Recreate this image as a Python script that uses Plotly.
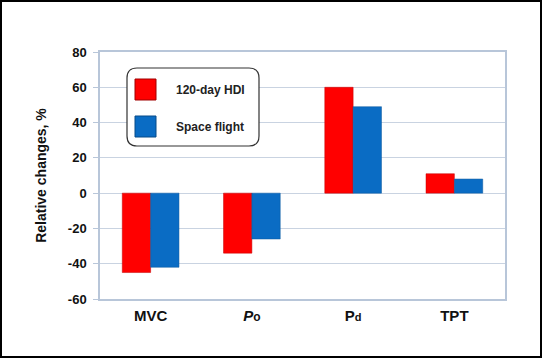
import plotly.graph_objects as go

categories = ["MVC", "<i>P</i><span style='font-size:12px'>o</span>", "P<span style='font-size:11px'>d</span>", "TPT"]
series_names = ["120-day HDI", "Space flight"]
hdi_values = [-45, -34, 60, 11]
flight_values = [-42, -26, 49, 8]
y_ticks = [-60, -40, -20, 0, 20, 40, 60, 80]

W, H = 542, 358
L, R, T, B = 100, 37, 52, 59
PW, PH = W - L - R, H - T - B

def px(x):
    return (x - L) / PW

def py(y):
    return (H - B - y) / PH

RED = "#ff0000"
BLUE = "#0a6cc4"

fig = go.Figure()
fig.add_bar(x=categories, y=hdi_values, name=series_names[0], marker=dict(color=RED, line=dict(color="#c00000", width=0.5)))
fig.add_bar(x=categories, y=flight_values, name=series_names[1], marker=dict(color=BLUE, line=dict(color="#08569c", width=0.5)))

shapes = []
# outer frame
shapes.append(dict(type="rect", xref="paper", yref="paper", x0=px(1), x1=px(541), y0=py(357), y1=py(1),
                   line=dict(color="black", width=2), fillcolor="rgba(0,0,0,0)", layer="above"))
# rounded legend box
x0, x1, y0, y1, r = 127, 259, 68, 146, 10
path = (f"M {px(x0+r)},{py(y0)} L {px(x1-r)},{py(y0)} Q {px(x1)},{py(y0)} {px(x1)},{py(y0+r)} "
        f"L {px(x1)},{py(y1-r)} Q {px(x1)},{py(y1)} {px(x1-r)},{py(y1)} "
        f"L {px(x0+r)},{py(y1)} Q {px(x0)},{py(y1)} {px(x0)},{py(y1-r)} "
        f"L {px(x0)},{py(y0+r)} Q {px(x0)},{py(y0)} {px(x0+r)},{py(y0)} Z")
shapes.append(dict(type="path", xref="paper", yref="paper", path=path, fillcolor="white",
                   line=dict(color="#333333", width=1.2), layer="above"))
annotations = []
for i, (name, col, edge) in enumerate([(series_names[0], RED, "#a00000"), (series_names[1], BLUE, "#064a88")]):
    top = 79 + i * 37
    shapes.append(dict(type="rect", xref="paper", yref="paper", x0=px(135), x1=px(156), y0=py(top + 21), y1=py(top),
                       fillcolor=col, line=dict(color=edge, width=1), layer="above"))
    annotations.append(dict(xref="paper", yref="paper", x=px(174), y=py(top + 10.5), text=f"<b>{name}</b>",
                            showarrow=False, xanchor="left", yanchor="middle",
                            font=dict(family="Liberation Sans, Arial", size=12, color="#222222")))

fig.update_layout(
    width=W, height=H, margin=dict(l=L, r=R, t=T, b=B),
    paper_bgcolor="white", plot_bgcolor="white",
    barmode="group", bargap=0.44, bargroupgap=0,
    showlegend=False,
    shapes=shapes, annotations=annotations,
    font=dict(family="Liberation Sans, Arial", color="#111111"),
)
fig.update_xaxes(showgrid=False, tickfont=dict(size=15, family="Liberation Sans, Arial", weight="bold"),
                 ticks="", showline=True, linecolor="#b8c6d9", linewidth=1.5, mirror=True, ticklabelstandoff=2)
fig.update_yaxes(range=[-60, 80], tickvals=y_ticks, ticktext=[str(v) for v in y_ticks],
                 showgrid=True, gridcolor="#c9d3e1", gridwidth=1.2, zeroline=False,
                 showline=True, linecolor="#b8c6d9", linewidth=1.5, mirror=True,
                 ticks="outside", ticklen=5, tickcolor="#b8c6d9", ticklabelstandoff=4,
                 tickfont=dict(size=13, family="Liberation Sans, Arial", weight="bold"),
                 title=dict(text="<b>Relative changes, %</b>", font=dict(size=14), standoff=18))

fig.write_html("out.html", config={"displayModeBar": False},
               post_script="document.body.style.margin='0';document.body.style.padding='0';document.body.style.overflow='hidden';")
